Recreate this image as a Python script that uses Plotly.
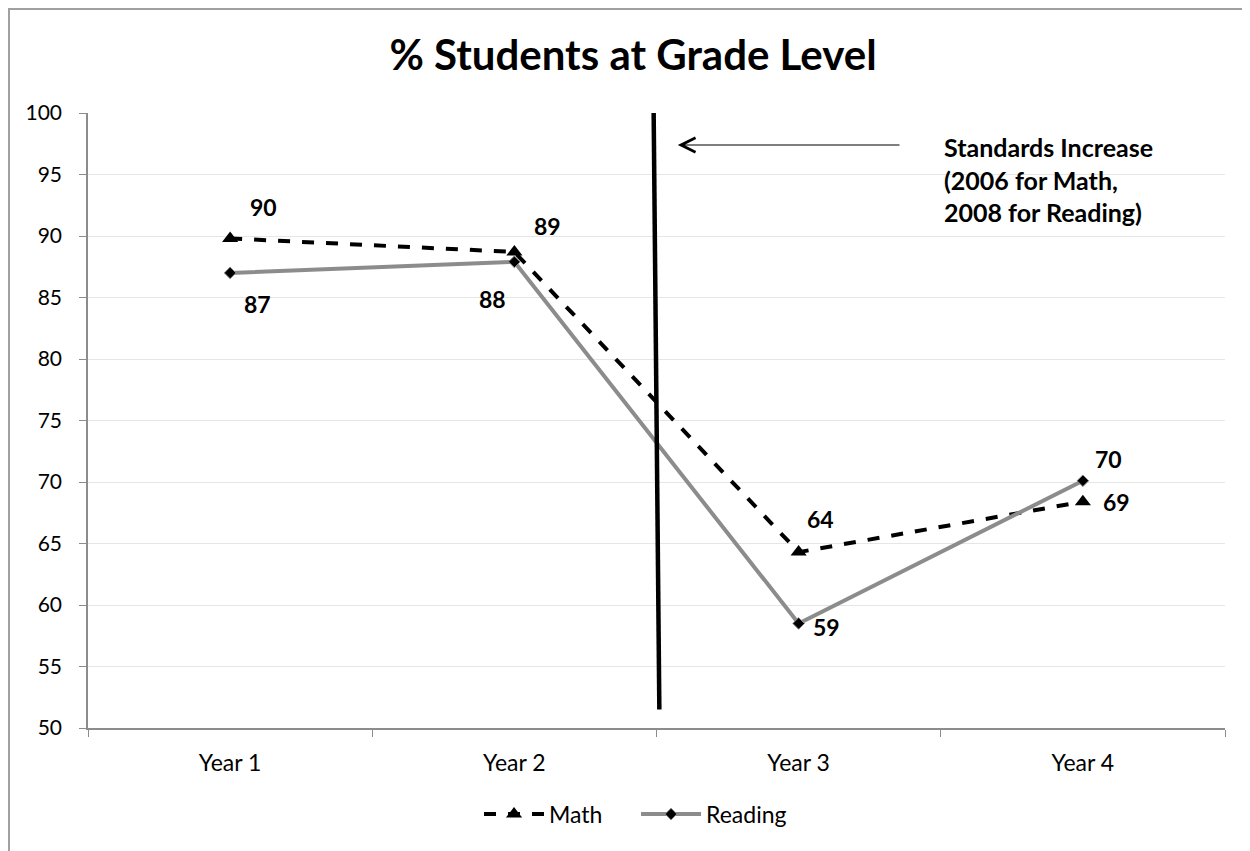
import plotly.graph_objects as go

categories = ["Year 1", "Year 2", "Year 3", "Year 4"]
math_vals = [89.8, 88.7, 64.3, 68.4]
reading_vals = [87.0, 87.9, 58.5, 70.1]
math_labels = ["90", "89", "64", "69"]
reading_labels = ["87", "88", "59", "70"]
# label offsets in pixels (xshift, yshift)
math_shift = [(33, 31), (33, 26), (22, 33), (34, 0)]
reading_shift = [(27, -31), (-22, -37), (28, -4), (26, 22)]

FONT = "Lato"

fig = go.Figure()
fig.add_trace(go.Scatter(
    x=categories, y=math_vals, name="Math", mode="lines+markers",
    line=dict(color="black", width=4, dash="dash"),
    marker=dict(symbol="triangle-up", size=14, color="black"),
))
fig.add_trace(go.Scatter(
    x=categories, y=reading_vals, name="Reading", mode="lines+markers",
    line=dict(color="#8c8c8c", width=4),
    marker=dict(symbol="diamond", size=9, color="black", line=dict(color="#8c8c8c", width=1)),
))

annotations = []
for c, v, t, (dx, dy) in zip(categories, math_vals, math_labels, math_shift):
    annotations.append(dict(x=c, y=v, text="<b>%s</b>" % t, showarrow=False,
                            xshift=dx, yshift=dy, font=dict(size=23, color="black", family=FONT)))
for c, v, t, (dx, dy) in zip(categories, reading_vals, reading_labels, reading_shift):
    annotations.append(dict(x=c, y=v, text="<b>%s</b>" % t, showarrow=False,
                            xshift=dx, yshift=dy, font=dict(size=23, color="black", family=FONT)))

# arrow pointing to the vertical line
annotations.append(dict(x=1.575, y=97.4, ax=2.36, ay=97.4, xref="x", yref="y", axref="x", ayref="y",
                        text="", showarrow=True, arrowhead=5, arrowsize=2.6, arrowwidth=1.1,
                        arrowcolor="black"))
annotations.append(dict(x=2.505, y=98.6, xref="x", yref="y", xanchor="left", yanchor="top",
                        align="left", showarrow=False,
                        text="<b>Standards Increase<br>(2006 for Math,<br>2008 for Reading)</b>",
                        font=dict(size=25, color="black", family=FONT)))

shapes = [
    dict(type="line", xref="x", yref="y", x0=1.49, y0=100, x1=1.51, y1=51.5,
         line=dict(color="black", width=4.5)),
    dict(type="rect", xref="paper", yref="paper", x0=-0.0695, x1=1.2, y0=-0.5, y1=1.169,
         line=dict(color="#a0a0a0", width=2), fillcolor="rgba(0,0,0,0)", layer="below"),
]

fig.update_layout(
    width=1250, height=851,
    margin=dict(l=80, r=33, t=105, b=131),
    paper_bgcolor="white", plot_bgcolor="white",
    font=dict(family=FONT, size=21, color="black"),
    title=dict(text="<b>% Students at Grade Level</b>", x=0.5, xanchor="center",
               y=0.945, yanchor="middle", font=dict(size=42, family=FONT, color="black")),
    xaxis=dict(type="category", range=[-0.5, 3.5], showline=True, linecolor="#8c8c8c", linewidth=1.5,
               ticks="outside", tickson="boundaries", ticklen=7, tickcolor="#8c8c8c",
               ticklabelstandoff=14,
               showgrid=False, tickfont=dict(size=23, family=FONT), fixedrange=True),
    yaxis=dict(range=[50, 100], dtick=5, showline=True, linecolor="#8c8c8c", linewidth=1.5,
               ticks="outside", ticklen=7, tickcolor="#8c8c8c", gridcolor="#e6e6e6", gridwidth=1,
               ticklabelstandoff=13,
               tickfont=dict(size=21, family=FONT), zeroline=False),
    legend=dict(orientation="h", x=0.482, xanchor="center", y=-0.14, yanchor="middle",
                font=dict(size=23, family=FONT), itemwidth=60, entrywidth=82,
                entrywidthmode="pixels"),
    annotations=annotations,
    shapes=shapes,
    showlegend=True,
)

fig.write_html("out.html")
